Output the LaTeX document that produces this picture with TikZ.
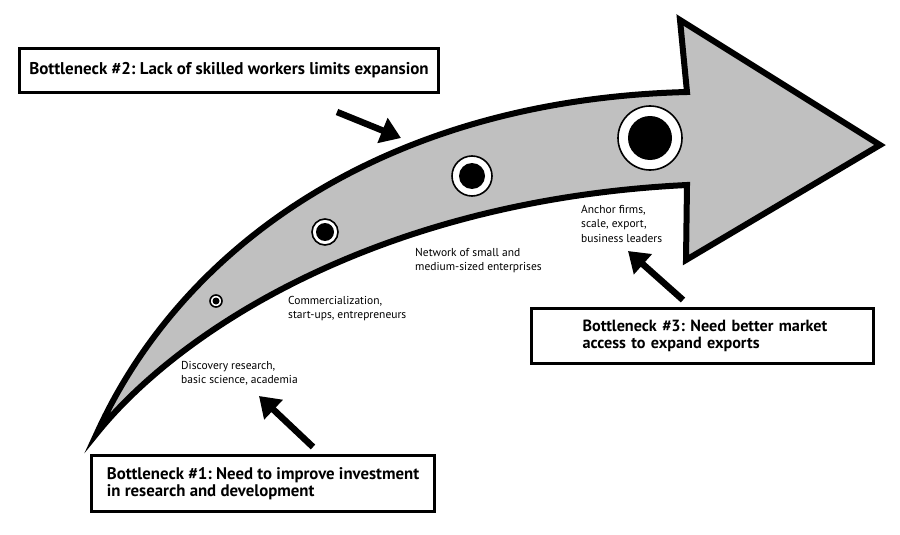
\documentclass[tikz,border=0pt]{standalone}
\usepackage{fontspec}
\setmainfont{PT Sans}
\usetikzlibrary{arrows.meta,calc}
\definecolor{bandgray}{RGB}{192,192,192}
\tikzset{
  bbox/.style={draw=black, line width=3pt, fill=white, font=\bfseries\fontsize{16.2}{16.5}\selectfont, align=left, inner ysep=0pt},
  small/.style={font=\fontsize{11.5}{14.5}\selectfont, align=left, inner sep=0pt, anchor=north west},
  thickarrow/.style={line width=6.5pt, -{Triangle[length=20pt,width=26pt]}, shorten >=0pt},
  ring/.style={circle, draw=black, line width=1.6pt, fill=white, inner sep=0pt},
  dot/.style={circle, fill=black, inner sep=0pt},
}
\frenchspacing
\begin{document}
\begin{tikzpicture}[x=1pt,y=-1pt]
\useasboundingbox (0,0) rectangle (900,535);
% big curved arrow
\draw[line width=6pt, fill=bandgray, line join=miter, miter limit=20]
  (97,433) .. controls (180,250) and (380,100) .. (687,92)
  -- (680,20) -- (880,145) -- (686,260) -- (687,185)
  .. controls (380,200) and (180,330) .. (97,433) -- cycle;
% stage markers
\node[ring, minimum size=12pt] (r1) at (216,301) {};
\node[dot, minimum size=7pt] (d1) at (r1) {};
\node[ring, minimum size=26pt] (r2) at (325,232) {};
\node[dot, minimum size=18pt] (d2) at (r2) {};
\node[ring, minimum size=40pt] (r3) at (472,176) {};
\node[dot, minimum size=26pt] (d3) at (r3) {};
\node[ring, minimum size=64pt] (r4) at (650,138) {};
\node[dot, minimum size=44pt] (d4) at (r4) {};
% stage labels
\node[small] (l1) at (181,361) {Discovery research,\\basic science, academia};
\node[small] (l2) at (288,296) {Commercialization,\\start-ups, entrepreneurs};
\node[small] (l3) at (415,248) {Network of small and\\medium-sized enterprises};
\node[small] (l4) at (581,205) {Anchor firms,\\scale, export,\\business leaders};
% bottleneck boxes
\node[bbox, anchor=north west, minimum width=419pt, minimum height=44pt, inner xsep=0pt,
      font=\bfseries\fontsize{17}{18}\selectfont] (b2) at (18,47)
  {Bottleneck \#2: Lack of skilled workers limits expansion};
\node[bbox, anchor=north west, minimum width=343pt, minimum height=56pt, inner xsep=0pt,
      font=\bfseries\fontsize{16.8}{16.5}\selectfont] (b1) at (90,454)
  {Bottleneck \#1: Need to improve investment\\in research and development};
\node[bbox, anchor=north west, text width=316pt, minimum height=55pt, inner xsep=13pt] (b3) at (530,307)
  {\hspace*{38pt}Bottleneck \#3: Need better market\\\hspace*{38pt}access to expand exports};
% pointer arrows
\coordinate (a2s) at (337,112);
\coordinate (a2e) at (401,138);
\coordinate (a1s) at ($(b1.north west)+(223,-7)$);
\coordinate (a1e) at (259,396);
\coordinate (a3s) at ($(b3.north west)+(153,-7)$);
\coordinate (a3e) at (628,251);
\draw[thickarrow] (a2s) -- (a2e);
\draw[thickarrow] (a1s) -- (a1e);
\draw[thickarrow] (a3s) -- (a3e);
\end{tikzpicture}
\end{document}
